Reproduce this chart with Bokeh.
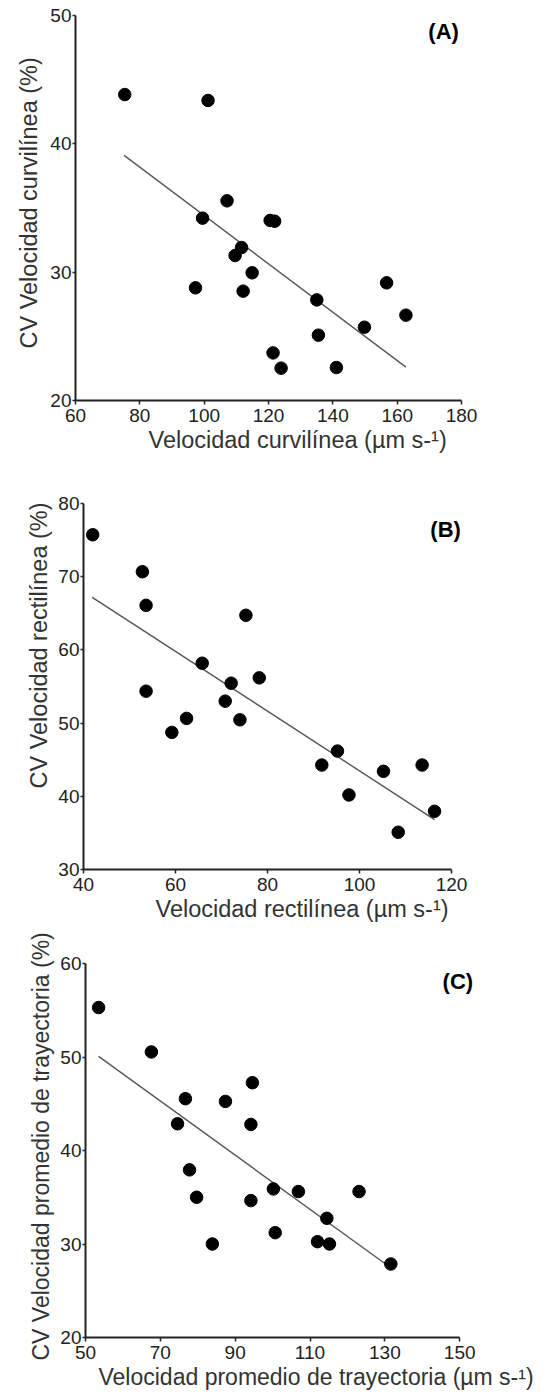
from bokeh.plotting import figure
from bokeh.models import Range1d, FixedTicker, Label, Title
from bokeh.embed import file_html
from bokeh.resources import INLINE

# ---------------- data ----------------
# (A) curvilinear velocity vs its CV
a_x = [75.3, 101.2, 107.1, 99.5, 120.5, 121.9, 111.6, 109.6, 114.9, 97.3,
       112.1, 156.7, 135.0, 162.7, 149.8, 135.5, 121.4, 123.9, 141.1]
a_y = [43.84, 43.38, 35.56, 34.21, 34.03, 33.97, 31.92, 31.30, 29.95, 28.78,
       28.52, 29.17, 27.84, 26.65, 25.71, 25.09, 23.71, 22.52, 22.57]
a_fit_x = [75.1, 162.7]
a_fit_y = [39.1, 22.6]
a_xticks = [60, 80, 100, 120, 140, 160, 180]
a_yticks = [20, 30, 40, 50]

# (B) straight-line velocity vs its CV
b_x = [42.0, 52.8, 53.6, 75.3, 65.8, 78.2, 72.1, 53.6, 70.8, 62.4,
       74.0, 59.2, 95.2, 91.8, 113.6, 105.2, 97.7, 116.3, 108.4]
b_y = [75.73, 70.68, 66.09, 64.73, 58.18, 56.18, 55.45, 54.36, 53.0, 50.64,
       50.45, 48.73, 46.18, 44.27, 44.27, 43.41, 40.18, 37.95, 35.09]
b_fit_x = [41.9, 116.3]
b_fit_y = [67.18, 36.82]
b_xticks = [40, 60, 80, 100, 120]
b_yticks = [30, 40, 50, 60, 70, 80]

# (C) average path velocity vs its CV
c_x = [53.5, 67.6, 94.6, 76.7, 87.4, 74.6, 94.2, 77.8, 100.2, 106.9,
       123.1, 79.7, 94.2, 114.5, 100.7, 112.0, 83.9, 115.2, 131.6]
c_y = [55.29, 50.54, 47.25, 45.54, 45.25, 42.86, 42.79, 37.93, 35.89, 35.61,
       35.61, 35.0, 34.64, 32.75, 31.21, 30.25, 30.0, 30.0, 27.86]
c_fit_x = [53.5, 130.2]
c_fit_y = [50.07, 27.86]
c_xticks = [50, 70, 90, 110, 130, 150]
c_yticks = [20, 30, 40, 50, 60]

FONT = "Liberation Sans"
INK = "#222222"
LAB = "#333333"


def panel(xs, ys, fx, fy, xticks, yticks, xlabel, ylabel, tag,
          height, x_end, border_top, border_left, border_right, tag_pos,
          xlab_offset, xlab_size, ylab_offset, ylab_standoff, ylab_size):
    p = figure(width=550, height=height, output_backend="svg",
               toolbar_location=None,
               x_range=Range1d(xticks[0], x_end),
               y_range=Range1d(yticks[0], yticks[-1]),
               min_border_top=border_top, min_border_bottom=60,
               min_border_left=border_left, min_border_right=border_right)
    p.outline_line_color = None
    p.xgrid.visible = False
    p.ygrid.visible = False
    p.background_fill_color = "white"
    p.border_fill_color = "white"

    p.line(fx, fy, line_color="#555555", line_width=1.4)
    p.scatter(xs, ys, size=12.5, marker="circle", fill_color="black",
              line_color="black")

    for ax in (p.xaxis[0], p.yaxis[0]):
        ax.axis_line_color = INK
        ax.axis_line_width = 2
        ax.major_tick_line_color = INK
        ax.major_tick_line_width = 1.5
        ax.major_tick_in = 0
        ax.minor_tick_line_color = None
        ax.major_label_text_font = FONT
        ax.major_label_text_font_size = "19px"
        ax.major_label_text_color = INK

    xa = p.xaxis[0]
    xa.ticker = FixedTicker(ticks=xticks)
    xa.bounds = (xticks[0], xticks[-1])
    xa.major_tick_out = 4
    xa.major_label_standoff = 4

    ya = p.yaxis[0]
    ya.ticker = FixedTicker(ticks=yticks)
    ya.major_tick_out = 3
    ya.major_label_standoff = 1

    p.add_layout(Label(x=tag_pos[0], y=tag_pos[1], text=tag, text_font=FONT,
                       text_font_size="22px", text_font_style="bold",
                       text_color="black", text_align="center",
                       text_baseline="middle"))
    p.add_layout(Title(text=xlabel, align="left", offset=xlab_offset,
                       standoff=0, text_font=FONT, text_font_size=xlab_size,
                       text_font_style="normal", text_color=LAB), "below")
    p.add_layout(Title(text=ylabel, align="left", offset=ylab_offset,
                       standoff=ylab_standoff, text_font=FONT,
                       text_font_size=ylab_size, text_font_style="normal",
                       text_color=LAB), "left")
    return p


pA = panel(a_x, a_y, a_fit_x, a_fit_y, a_xticks, a_yticks,
           "Velocidad curvilínea (µm s-¹)", "CV Velocidad curvilínea (%)", "(A)",
           height=460, x_end=198, border_top=15, border_left=75,
           border_right=31, tag_pos=(174.4, 48.75),
           xlab_offset=73, xlab_size="23.5px",
           ylab_offset=52, ylab_standoff=12, ylab_size="23.5px")

pB = panel(b_x, b_y, b_fit_x, b_fit_y, b_xticks, b_yticks,
           "Velocidad rectilínea (µm s-¹)", "CV Velocidad rectilínea (%)", "(B)",
           height=469, x_end=135.2, border_top=43, border_left=83,
           border_right=29, tag_pos=(118.7, 76.45),
           xlab_offset=72, xlab_size="23.5px",
           ylab_offset=81, ylab_standoff=8, ylab_size="23.5px")

pC = panel(c_x, c_y, c_fit_x, c_fit_y, c_xticks, c_yticks,
           "Velocidad promedio de trayectoria (µm s-¹)",
           "CV Velocidad promedio de trayectoria (%)", "(C)",
           height=468, x_end=174, border_top=34, border_left=85,
           border_right=1, tag_pos=(149.5, 58.1),
           xlab_offset=13, xlab_size="23px",
           ylab_offset=-23, ylab_standoff=8, ylab_size="23px")

open("out.html", "w").write(file_html([pA, pB, pC], INLINE))
